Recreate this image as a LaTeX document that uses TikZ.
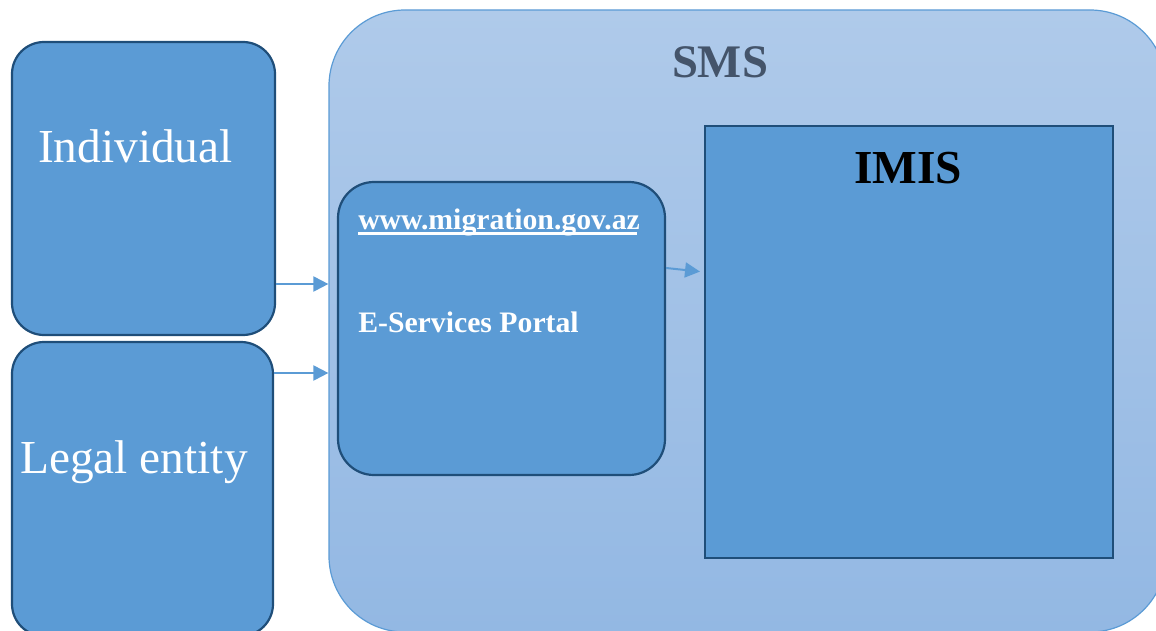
\documentclass[tikz,border=0pt]{standalone}
\usepackage{fontspec}
\setmainfont{Liberation Serif}
\usetikzlibrary{arrows.meta}
\definecolor{boxblue}{HTML}{5B9BD5}
\definecolor{boxedge}{HTML}{1F4E79}
\definecolor{smstop}{HTML}{AFCAEA}
\definecolor{smsbot}{HTML}{93B8E3}
\definecolor{smstext}{HTML}{44546A}
\def\u{0.75pt}
\tikzset{
  bluebox/.style={draw=boxedge, line width=2.2*\u, fill=boxblue, inner sep=0pt},
  arr/.style={draw=boxblue, line width=2*\u, -{Triangle[length=15*\u, width=15*\u]}},
  bigtxt/.style={text=white, font=\fontsize{35.5}{40}\selectfont, inner sep=0pt},
}
\begin{document}
\begin{tikzpicture}[x=0.75pt,y=-0.75pt]
\useasboundingbox (0,0) rectangle (1156,631);
\begin{scope}
\clip (0,0) rectangle (1156,631);
% SMS container
\node[draw=boxblue, line width=1.2*\u, top color=smstop, bottom color=smsbot, rounded corners=76*\u,
  minimum width=837*\u, minimum height=622*\u, inner sep=0pt] (sms) at (747.5,321) {};
% Individual
\node[bluebox, rounded corners=32*\u, minimum width=263*\u, minimum height=293*\u] (ind) at (143.5,188.5) {};
% Legal entity
\node[bluebox, rounded corners=32*\u, minimum width=261*\u, minimum height=294*\u] (leg) at (142.5,489) {};
\end{scope}
% Portal
\node[bluebox, rounded corners=36*\u, minimum width=327*\u, minimum height=293*\u] (portal) at (501.5,328.5) {};
% IMIS
\node[draw=boxedge, line width=2*\u, fill=boxblue, minimum width=408*\u, minimum height=432*\u, inner sep=0pt] (imis) at (909,342) {};

% texts
\node[bigtxt, anchor=base] (tind) at (135.5,162) {Individual};
\node[bigtxt, anchor=base] (tleg) at (134,473) {Legal entity};
\node[text=smstext, font=\bfseries\fontsize{35}{40}\selectfont, inner sep=0pt, anchor=base] (tsms) at (720,78) {SMS};
\node[text=black, font=\bfseries\fontsize{35.5}{40}\selectfont, inner sep=0pt, anchor=base] (timis) at (908,184) {IMIS};
\node[text=white, font=\bfseries\fontsize{22.3}{26}\selectfont, inner sep=0pt, anchor=base west] (turl) at (358,229)
  {\setlength{\fboxsep}{0pt}\rlap{\rule[-4.2pt]{209pt}{1.6pt}}www.migration.gov.az};
\node[text=white, font=\bfseries\fontsize{22.3}{26}\selectfont, inner sep=0pt, anchor=base west] (tport) at (358,332) {E-Services Portal};

% connectors
\draw[arr] (ind.east |- 0,284) -- (sms.west |- 0,284);
\draw[arr] (leg.east |- 0,373) -- (sms.west |- 0,373);
\draw[arr, shorten >=4*\u] (portal.east |- 0,268) -- (imis.west |- 0,272);
\end{tikzpicture}
\end{document}
